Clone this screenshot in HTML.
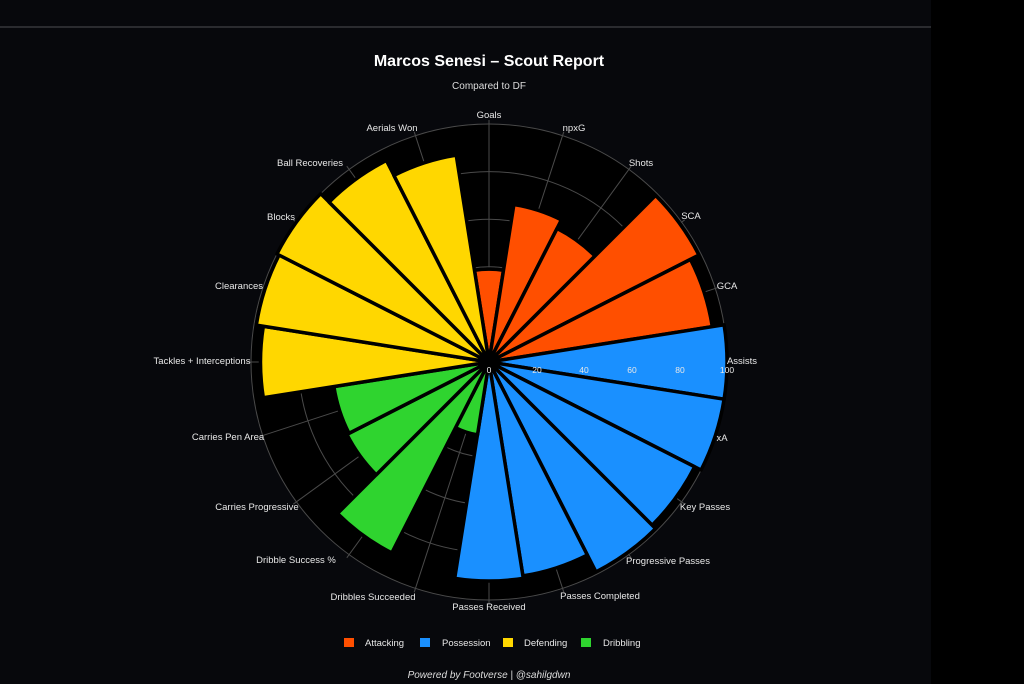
<!DOCTYPE html>
<html><head><meta charset="utf-8"><style>
html,body{margin:0;padding:0;background:#000;}
body{width:1024px;height:684px;overflow:hidden;position:relative;font-family:"Liberation Sans",sans-serif;}
#panel{position:absolute;left:0;top:0;width:931px;height:684px;background:#07080c;}
#line{position:absolute;left:0;top:26px;width:931px;height:2px;background:#2a2b2f;}
svg{position:absolute;left:0;top:0;}
</style></head><body>
<div id="panel"></div><div id="line"></div>
<svg id="s" width="1024" height="684" viewBox="0 0 1024 684">
<text x="489" y="66" fill="#fff" font-size="16" font-weight="bold" text-anchor="middle">Marcos Senesi – Scout Report</text>
<text x="489" y="89" fill="#ddd" font-size="10" text-anchor="middle">Compared to DF</text>
<g id="g"></g>
<g fill="#e8e8e8" font-size="9.5">
<text x="489" y="118" text-anchor="middle">Goals</text>
<text x="574" y="131" text-anchor="middle">npxG</text>
<text x="641" y="166" text-anchor="middle">Shots</text>
<text x="691" y="219" text-anchor="middle">SCA</text>
<text x="727" y="289" text-anchor="middle">GCA</text>
<text x="742" y="364" text-anchor="middle">Assists</text>
<text x="722" y="441" text-anchor="middle">xA</text>
<text x="705" y="510" text-anchor="middle">Key Passes</text>
<text x="668" y="564" text-anchor="middle">Progressive Passes</text>
<text x="600" y="599" text-anchor="middle">Passes Completed</text>
<text x="489" y="610" text-anchor="middle">Passes Received</text>
<text x="373" y="600" text-anchor="middle">Dribbles Succeeded</text>
<text x="296" y="563" text-anchor="middle">Dribble Success %</text>
<text x="257" y="510" text-anchor="middle">Carries Progressive</text>
<text x="228" y="440" text-anchor="middle">Carries Pen Area</text>
<text x="202" y="364" text-anchor="middle">Tackles + Interceptions</text>
<text x="239" y="289" text-anchor="middle">Clearances</text>
<text x="281" y="220" text-anchor="middle">Blocks</text>
<text x="310" y="166" text-anchor="middle">Ball Recoveries</text>
<text x="392" y="131" text-anchor="middle">Aerials Won</text>
</g>
<g fill="#e8e8e8" font-size="8.5" text-anchor="middle">
<text x="489" y="373">0</text><text x="537" y="373">20</text><text x="584" y="373">40</text><text x="632" y="373">60</text><text x="680" y="373">80</text><text x="727" y="373">100</text>
</g>
<g font-size="9.5" fill="#e8e8e8">
<rect x="344" y="638" width="10" height="9" fill="#ff4f00"/><text x="365" y="646">Attacking</text>
<rect x="420" y="638" width="10" height="9" fill="#1a90ff"/><text x="442" y="646">Possession</text>
<rect x="503" y="638" width="10" height="9" fill="#ffd700"/><text x="524" y="646">Defending</text>
<rect x="581" y="638" width="10" height="9" fill="#2fd42f"/><text x="603" y="646">Dribbling</text>
</g>
<text x="489" y="678" fill="#ddd" font-size="10" font-style="italic" text-anchor="middle">Powered by Footverse | @sahilgdwn</text>
</svg>
<script>
var cx=489,cy=362,R=238;
var vals=[39,67,63,99,95,100,100,97,99,91,92,31,90,67,66,96,99,100,95,88];
var cols=[];for(var i=0;i<20;i++){cols.push(i<5?"#ff4f00":i<11?"#1a90ff":i<15?"#2fd42f":"#ffd700");}
var h='<circle cx="'+cx+'" cy="'+cy+'" r="'+R+'" fill="#000"/>';
for(var k=1;k<=5;k++)h+='<circle cx="'+cx+'" cy="'+cy+'" r="'+(R*k/5)+'" fill="none" stroke="#4a4a4a" stroke-width="1"/>';
function pt(a,r){var t=a*Math.PI/180;return [cx+r*Math.sin(t),cy-r*Math.cos(t)];}
for(var i=0;i<20;i++){var p=pt(i*18,R+4);h+='<line x1="'+cx+'" y1="'+cy+'" x2="'+p[0].toFixed(1)+'" y2="'+p[1].toFixed(1)+'" stroke="#4a4a4a" stroke-width="1"/>';}
for(var i=0;i<20;i++){var r=R*vals[i]/100,a0=i*18-9,a1=i*18+9;var p0=pt(a0,r),p1=pt(a1,r);
h+='<path d="M'+cx+' '+cy+'L'+p0[0].toFixed(1)+' '+p0[1].toFixed(1)+'A'+r+' '+r+' 0 0 1 '+p1[0].toFixed(1)+' '+p1[1].toFixed(1)+'Z" fill="'+cols[i]+'" stroke="#000" stroke-width="3.5" stroke-linejoin="round"/>';}
document.getElementById('g').innerHTML=h;
</script>
</body></html>
